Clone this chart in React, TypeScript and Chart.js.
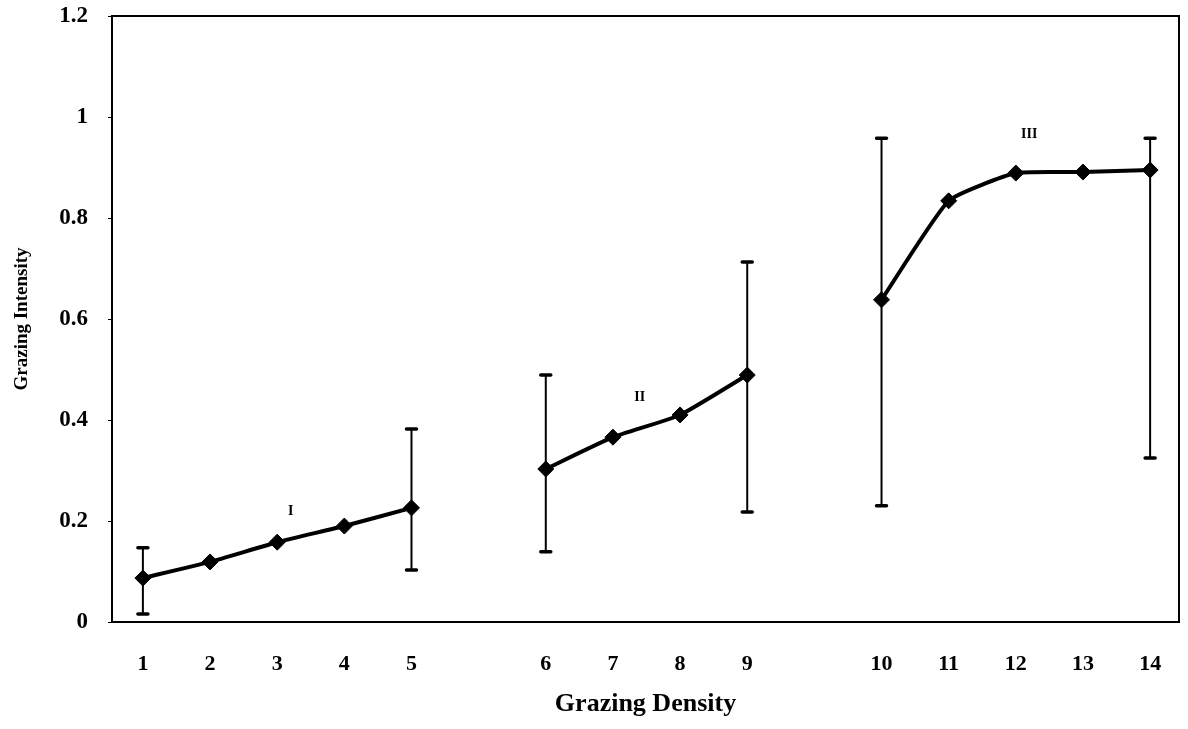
import React, { useEffect, useRef } from 'react';
import { Chart, registerables } from 'chart.js';

Chart.register(...registerables);

// Category slots along the x axis ('' = empty gap between groups)
const categories = ['1', '2', '3', '4', '5', '', '6', '7', '8', '9', '', '10', '11', '12', '13', '14'];

// Mean grazing intensity per group
const groupIValues = [0.087, 0.119, 0.158, 0.19, 0.226];
const groupIIValues = [0.303, 0.366, 0.41, 0.489];
const groupIIIValues = [0.638, 0.834, 0.889, 0.891, 0.895];

// Error bars
const errDensity = ['1', '5', '6', '9', '10', '14'];
const errHigh = [0.147, 0.382, 0.489, 0.713, 0.958, 0.958];
const errLow = [0.016, 0.103, 0.139, 0.218, 0.23, 0.325];

// Group annotations (x in category-slot units, y in data units)
const groupNames = ['I', 'II', 'III'];
const groupNameX = [3.2, 8.4, 14.2];
const groupNameY = [0.22, 0.445, 0.965];

const FONT = "'Liberation Serif', 'Times New Roman', serif";

function splitGroups(cats: string[]): string[][] {
  const out: string[][] = [];
  let cur: string[] = [];
  cats.forEach((c) => {
    if (c === '') {
      out.push(cur);
      cur = [];
    } else cur.push(c);
  });
  out.push(cur);
  return out;
}

const posOf = (label: string) => categories.indexOf(label) + 1;
const zeroPad = () => ({ left: 0, top: 0, right: 0, bottom: 0 });

export default function App() {
  const ref = useRef<HTMLCanvasElement | null>(null);

  useEffect(() => {
    if (!ref.current) return;
    const groups = splitGroups(categories);
    const values = [groupIValues, groupIIValues, groupIIIValues];
    const datasets = groups.map((g, gi) => ({
      label: 'Group ' + groupNames[gi],
      data: g.map((lab, i) => ({ x: posOf(lab), y: values[gi][i] })),
      borderColor: '#000',
      backgroundColor: '#000',
      borderWidth: 4,
      pointStyle: 'rectRot' as const,
      pointRadius: 8,
      pointBorderWidth: 1,
      pointBackgroundColor: '#000',
      pointBorderColor: '#000',
      tension: 0.15,
    }));

    const extras = {
      id: 'extras',
      beforeDatasetsDraw(chart: any) {
        const { ctx, scales } = chart;
        const xs = scales.x;
        const ys = scales.y;
        ctx.save();
        ctx.strokeStyle = '#000';
        errDensity.forEach((lab, i) => {
          const px = xs.getPixelForValue(posOf(lab));
          const yh = ys.getPixelForValue(errHigh[i]);
          const yl = ys.getPixelForValue(errLow[i]);
          ctx.lineWidth = 2;
          ctx.lineCap = 'butt';
          ctx.beginPath();
          ctx.moveTo(px, yh);
          ctx.lineTo(px, yl);
          ctx.stroke();
          ctx.lineWidth = 3.5;
          ctx.lineCap = 'round';
          ctx.beginPath();
          ctx.moveTo(px - 5, yh);
          ctx.lineTo(px + 5, yh);
          ctx.moveTo(px - 5, yl);
          ctx.lineTo(px + 5, yl);
          ctx.stroke();
        });
        ctx.restore();
      },
      afterDraw(chart: any) {
        const { ctx, chartArea, scales } = chart;
        ctx.save();
        ctx.strokeStyle = '#000';
        ctx.lineWidth = 2;
        ctx.beginPath();
        ctx.moveTo(chartArea.left, chartArea.top);
        ctx.lineTo(chartArea.right, chartArea.top);
        ctx.lineTo(chartArea.right, chartArea.bottom);
        ctx.stroke();
        ctx.fillStyle = '#000';
        ctx.font = `bold 14px ${FONT}`;
        ctx.textAlign = 'center';
        ctx.textBaseline = 'middle';
        groupNames.forEach((n, i) => {
          ctx.fillText(n, scales.x.getPixelForValue(groupNameX[i]), scales.y.getPixelForValue(groupNameY[i]));
        });
        ctx.restore();
      },
    };

    const chart = new Chart(ref.current, {
      type: 'line',
      data: { datasets },
      options: {
        animation: false,
        responsive: false,
        maintainAspectRatio: false,
        devicePixelRatio: 1,
        layout: { padding: { top: 16, right: 2, left: 0, bottom: 0 } },
        plugins: { legend: { display: false }, tooltip: { enabled: false } },
        scales: {
          x: {
            type: 'linear',
            min: 0.54,
            max: 16.43,
            afterBuildTicks: (scale: any) => {
              scale.ticks = categories.map((_, i) => ({ value: i + 1 }));
            },
            afterFit: (scale: any) => {
              scale.height = 107;
              scale.paddingLeft = 0;
              scale.paddingRight = 0;
              scale.getPadding = zeroPad;
            },
            grid: { display: true, drawOnChartArea: false, drawTicks: false, color: '#000' },
            border: { display: true, color: '#000', width: 2 },
            ticks: {
              autoSkip: false,
              maxRotation: 0,
              padding: 29,
              color: '#000',
              font: { family: FONT, size: 22, weight: 'bold' },
              callback: (v: any) => categories[Math.round(Number(v)) - 1] ?? '',
            },
            title: {
              display: true,
              text: 'Grazing Density',
              color: '#000',
              font: { family: FONT, size: 26, weight: 'bold' },
              padding: { top: 0, bottom: 9 },
            },
          },
          y: {
            type: 'linear',
            min: 0,
            max: 1.2,
            afterFit: (scale: any) => {
              scale.width = 112;
              scale.paddingTop = 0;
              scale.paddingBottom = 0;
              scale.getPadding = zeroPad;
            },
            grid: { display: true, drawOnChartArea: false, drawTicks: true, tickLength: 4, color: '#000' },
            border: { display: true, color: '#000', width: 2 },
            ticks: {
              stepSize: 0.2,
              padding: 20,
              color: '#000',
              font: { family: FONT, size: 23, weight: 'bold' },
              callback: (v: any) => String(Number(Number(v).toFixed(1))),
            },
            title: {
              display: true,
              text: 'Grazing Intensity',
              color: '#000',
              font: { family: FONT, size: 19, weight: 'bold' },
              padding: { top: 11, bottom: 0 },
            },
          },
        },
      },
      plugins: [extras],
    });
    return () => chart.destroy();
  }, []);

  return (
    <div style={{ position: 'fixed', left: 0, top: 0, width: 1188, height: 729, background: '#fff' }}>
      <canvas ref={ref} width={1188} height={729} style={{ display: 'block', width: 1188, height: 729 }} />
    </div>
  );
}
